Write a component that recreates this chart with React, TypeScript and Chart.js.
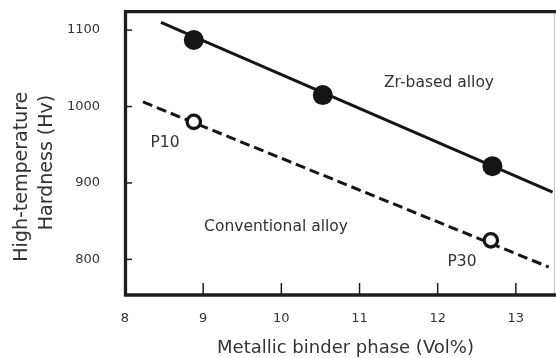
import React, { useEffect, useRef } from "react";
import { Chart, registerables } from "chart.js";

Chart.register(...registerables);

// ---- data ----
const xTicks = [8, 9, 10, 11, 12, 13];
const yTicks = [800, 900, 1000, 1100];

// Zr-based alloy measured points (filled circles)
const zrX = [8.88, 10.53, 12.7];
const zrY = [1087, 1015, 922];
// Conventional alloy measured points (open circles, P10 & P30)
const convX = [8.88, 12.68];
const convY = [980, 825];
// trend lines
const zrLineX = [8.46, 13.47];
const zrLineY = [1110, 888];
const convLineX = [8.23, 13.42];
const convLineY = [1006, 790];

const xTitle = "Metallic binder phase (Vol%)";
const yTitle1 = "High-temperature";
const yTitle2 = "Hardness (Hv)";
const labelZr = "Zr-based alloy";
const labelConv = "Conventional alloy";
const labelP10 = "P10";
const labelP30 = "P30";

const pts = (xs: number[], ys: number[]) => xs.map((x, i) => ({ x, y: ys[i] }));

const FONT = "'DejaVu Sans', Verdana, sans-serif";
const TEXT = "#333333";
const INK = "#151515";

const framePlugin = {
  id: "frame",
  afterDraw(chart: any) {
    const { ctx, chartArea, scales } = chart;
    const { left, right, top, bottom } = chartArea;
    const W = chart.width;
    ctx.save();
    // thin right border
    ctx.strokeStyle = "#c8c8c8";
    ctx.lineWidth = 1;
    ctx.beginPath();
    ctx.moveTo(right + 0.5, top);
    ctx.lineTo(right + 0.5, bottom);
    ctx.stroke();
    // thick frame
    ctx.strokeStyle = "#1e1e1e";
    ctx.lineWidth = 3.3;
    ctx.beginPath();
    ctx.moveTo(W, top - 0.3);
    ctx.lineTo(left + 0.5, top - 0.3);
    ctx.lineTo(left + 0.5, bottom);
    ctx.lineTo(W, bottom);
    ctx.stroke();
    // inward ticks
    ctx.lineWidth = 1.5;
    yTicks.forEach((v) => {
      const y = scales.y.getPixelForValue(v);
      ctx.beginPath();
      ctx.moveTo(left + 1, y);
      ctx.lineTo(left + 7, y);
      ctx.stroke();
    });
    xTicks.forEach((v) => {
      if (v === xTicks[0]) return;
      const x = scales.x.getPixelForValue(v);
      ctx.beginPath();
      ctx.moveTo(x, bottom);
      ctx.lineTo(x, bottom - 12);
      ctx.stroke();
    });
    // texts
    ctx.fillStyle = TEXT;
    ctx.textBaseline = "alphabetic";
    ctx.font = `15.5px ${FONT}`;
    ctx.textAlign = "center";
    ctx.fillText(labelZr, 439, 86.5);
    ctx.fillText(labelConv, 276, 230.5);
    ctx.textAlign = "left";
    ctx.fillText(labelP10, 150.5, 147);
    ctx.fillText(labelP30, 447.5, 266);
    // axis titles
    ctx.font = `18px ${FONT}`;
    ctx.textAlign = "center";
    ctx.fillText(xTitle, 345.5, 353);
    ctx.font = `19px ${FONT}`;
    ctx.save();
    ctx.translate(27, 176.7);
    ctx.rotate(-Math.PI / 2);
    ctx.fillText(yTitle1, 0, 0);
    ctx.restore();
    ctx.save();
    ctx.translate(51.5, 162.5);
    ctx.rotate(-Math.PI / 2);
    ctx.fillText(yTitle2, 0, 0);
    ctx.restore();
    ctx.restore();
  },
};

export default function App() {
  const ref = useRef<HTMLCanvasElement | null>(null);
  useEffect(() => {
    if (!ref.current) return;
    const chart = new Chart(ref.current, {
      type: "scatter",
      data: {
        datasets: [
          {
            label: "Zr line",
            data: pts(zrLineX, zrLineY),
            showLine: true,
            borderColor: INK,
            borderWidth: 3,
            pointRadius: 0,
            order: 3,
          },
          {
            label: "Conv line",
            data: pts(convLineX, convLineY),
            showLine: true,
            borderColor: INK,
            borderWidth: 3,
            borderDash: [10, 5],
            pointRadius: 0,
            order: 3,
          },
          {
            label: "Zr-based alloy",
            data: pts(zrX, zrY),
            pointRadius: 10,
            pointBackgroundColor: INK,
            pointBorderWidth: 0,
            borderColor: INK,
            order: 1,
          },
          {
            label: "Conventional alloy",
            data: pts(convX, convY),
            pointRadius: 6.7,
            pointBackgroundColor: "#ffffff",
            pointBorderColor: INK,
            pointBorderWidth: 3.3,
            order: 1,
          },
        ],
      },
      options: {
        responsive: false,
        animation: false,
        events: [],
        layout: { autoPadding: false, padding: { top: 12, right: 2, left: 0, bottom: 0 } },
        plugins: { legend: { display: false }, tooltip: { enabled: false } },
        scales: {
          x: {
            type: "linear",
            min: 8,
            max: 13.488,
            grid: { display: false, drawTicks: false },
            border: { display: false },
            afterBuildTicks: (axis: any) => {
              axis.ticks = xTicks.map((v) => ({ value: v }));
            },
            afterFit: (axis: any) => {
              axis.height = 63;
              axis.paddingLeft = 0;
              axis.paddingRight = 0;
            },
            ticks: {
              padding: 16,
              color: TEXT,
              font: { family: FONT, size: 13 },
              maxRotation: 0,
              autoSkip: false,
              callback: (v: any) => String(v),
            },
          },
          y: {
            type: "linear",
            min: 753.4,
            max: 1123.7,
            grid: { display: false, drawTicks: false },
            border: { display: false },
            afterBuildTicks: (axis: any) => {
              axis.ticks = yTicks.map((v) => ({ value: v }));
            },
            afterFit: (axis: any) => {
              axis.width = 125;
              axis.paddingTop = 0;
              axis.paddingBottom = 0;
            },
            ticks: {
              padding: 25,
              color: TEXT,
              font: { family: FONT, size: 13 },
              autoSkip: false,
              callback: (v: any) => String(v),
            },
          },
        },
      },
      plugins: [framePlugin],
    });
    return () => chart.destroy();
  }, []);
  return (
    <div style={{ position: "fixed", left: 0, top: 0, width: 556, height: 358, background: "#fff" }}>
      <canvas ref={ref} width={556} height={358} style={{ display: "block" }} />
    </div>
  );
}
